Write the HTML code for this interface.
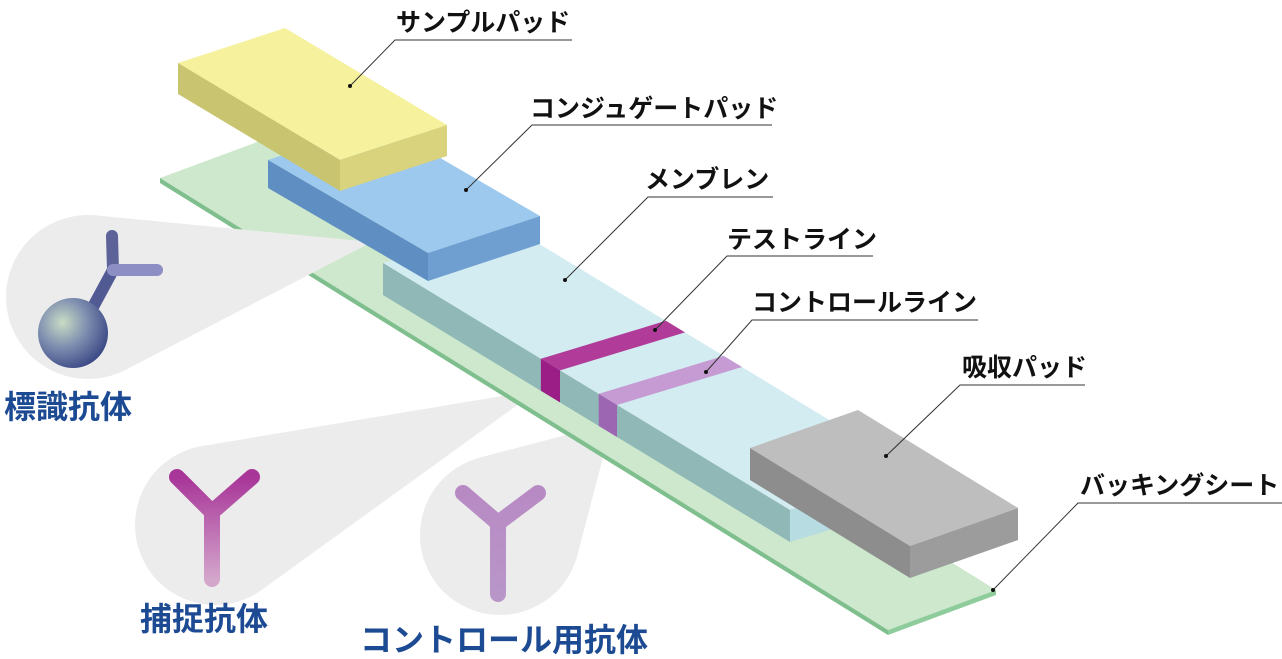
<!DOCTYPE html>
<html><head><meta charset="utf-8"><style>
html,body{margin:0;padding:0;background:#fff;}
svg{display:block;}
.l{font-family:"Liberation Sans","Noto Sans CJK JP",sans-serif;font-weight:700;font-size:25px;fill:#111;}
.b{font-family:"Liberation Sans","Noto Sans CJK JP",sans-serif;font-weight:700;font-size:32px;fill:#1d4b93;}
</style></head><body>
<svg id="s" width="1282" height="659" viewBox="0 0 1282 659" xmlns="http://www.w3.org/2000/svg">
<defs>
<radialGradient id="sph" cx="0.35" cy="0.35" r="0.7">
<stop offset="0" stop-color="#c9dcc4"/><stop offset="0.5" stop-color="#7f8fb0"/><stop offset="1" stop-color="#3c4a86"/>
</radialGradient>
<linearGradient id="mag" x1="0" y1="0" x2="0" y2="1"><stop offset="0" stop-color="#a83598"/><stop offset="1" stop-color="#d3a6cc"/></linearGradient>
<linearGradient id="pur" x1="0" y1="0" x2="0" y2="1"><stop offset="0" stop-color="#b88ac4"/><stop offset="1" stop-color="#b896c8"/></linearGradient>
</defs>
<g id="g"></g>
<text class="l" x="396" y="31">サンプルパッド</text>
<text class="l" x="530" y="117">コンジュゲートパッド</text>
<text class="l" x="645" y="188">メンブレン</text>
<text class="l" x="727" y="248">テストライン</text>
<text class="l" x="752" y="311">コントロールライン</text>
<text class="l" x="962" y="376">吸収パッド</text>
<text class="l" x="1080" y="494">バッキングシート</text>
<text class="b" x="4" y="418">標識抗体</text>
<text class="b" x="140" y="630">捕捉抗体</text>
<text class="b" x="360" y="651">コントロール用抗体</text>
</svg>
<script>
var g=document.getElementById('g'),h='';
function pt(a){return a.map(function(p){return p[0].toFixed(1)+','+p[1].toFixed(1)}).join(' ');}
function poly(a,c){h+='<polygon points="'+pt(a)+'" fill="'+c+'"/>';}
function add(p,q){return [p[0]+q[0],p[1]+q[1]];}
function box(P,F,S,H,top,front,end){
 var A=P,B=add(P,F),C=add(B,S),D=add(P,S);
 var dn=function(p){return [p[0],p[1]+H];};
 poly([A,B,C,D],top);
 poly([A,B,dn(B),dn(A)],front);
 poly([B,C,dn(C),dn(B)],end);
}
function bubble(cx,cy,r,tx,ty){
 var dx=tx-cx,dy=ty-cy,L=Math.sqrt(dx*dx+dy*dy),a=Math.atan2(dy,dx),t=Math.acos(r/L);
 h+='<circle cx="'+cx+'" cy="'+cy+'" r="'+r+'" fill="#ececec"/>';
 poly([[cx+r*Math.cos(a+t),cy+r*Math.sin(a+t)],[tx,ty],[cx+r*Math.cos(a-t),cy+r*Math.sin(a-t)],[cx,cy]],'#ececec');
}
function sc(P,F,f){return [P[0]+F[0]*f,P[1]+F[1]*f];}
bubble(215,525,80,538,390);
bubble(500,535,80,612,423);
box([160,178],[728,452],[108,-40],5,'#cde8cc','#7fbf8e','#8fcc9c');
bubble(88,297,82,372,242);
var MP=[383,263],MF=[407,247],MS=[125,-38];
box(MP,MF,MS,32,'#d3ecf1','#8fb8b6','#b7dde3');
var t0=sc(MP,MF,0.388),t1=sc(MP,MF,0.435);
poly([t0,t1,add(t1,MS),add(t0,MS)],'#b13b98');
poly([t0,t1,[t1[0],t1[1]+32],[t0[0],t0[1]+32]],'#9b1e86');
var c0=sc(MP,MF,0.53),c1=sc(MP,MF,0.575);
poly([c0,c1,add(c1,MS),add(c0,MS)],'#c69ad2');
poly([c0,c1,[c1[0],c1[1]+32],[c0[0],c0[1]+32]],'#9d66b2');
box([268,160],[160,93],[112,-37],28,'#9dc9ee','#5f8fc2','#6f9fd1');
box([178,63],[162,97],[107,-35],31,'#f5f19c','#c9c46f','#d8d37c');
box([750,448],[160,98],[108,-38],32,'#bebebe','#8d8d8d','#9c9c9c');
h+='<line x1="93" y1="307" x2="113" y2="270" stroke="#525a94" stroke-width="12" stroke-linecap="round"/>';
h+='<line x1="113" y1="270" x2="112" y2="236" stroke="#5d6399" stroke-width="12" stroke-linecap="round"/>';
h+='<line x1="113" y1="270" x2="157" y2="270" stroke="#8d8fc4" stroke-width="12" stroke-linecap="round"/>';
h+='<circle cx="73" cy="333" r="35" fill="url(#sph)"/>';
h+='<path d="M177 477 L212 512 L252 477 M212 512 L212 579" fill="none" stroke="url(#mag)" stroke-width="16" stroke-linecap="round" stroke-linejoin="round"/>';
h+='<path d="M463 493 L498 523 L538 493 M498 523 L498 594" fill="none" stroke="url(#pur)" stroke-width="16" stroke-linecap="round" stroke-linejoin="round"/>';
var Ld=[[395,572,40,350,86],[532,772,125,466,190],[648,773,197,565,280],[727,873,256,655,330],[752,978,320,706,372],[960,1085,385,886,456],[1078,1282,503,993,590]];
Ld.forEach(function(a){
 h+='<polyline points="'+a[1]+','+a[2]+' '+a[0]+','+a[2]+' '+a[3]+','+a[4]+'" fill="none" stroke="#333" stroke-width="1"/>';
 h+='<circle cx="'+a[3]+'" cy="'+a[4]+'" r="2" fill="#111"/>';
});
g.innerHTML=h;
</script>
</body></html>
